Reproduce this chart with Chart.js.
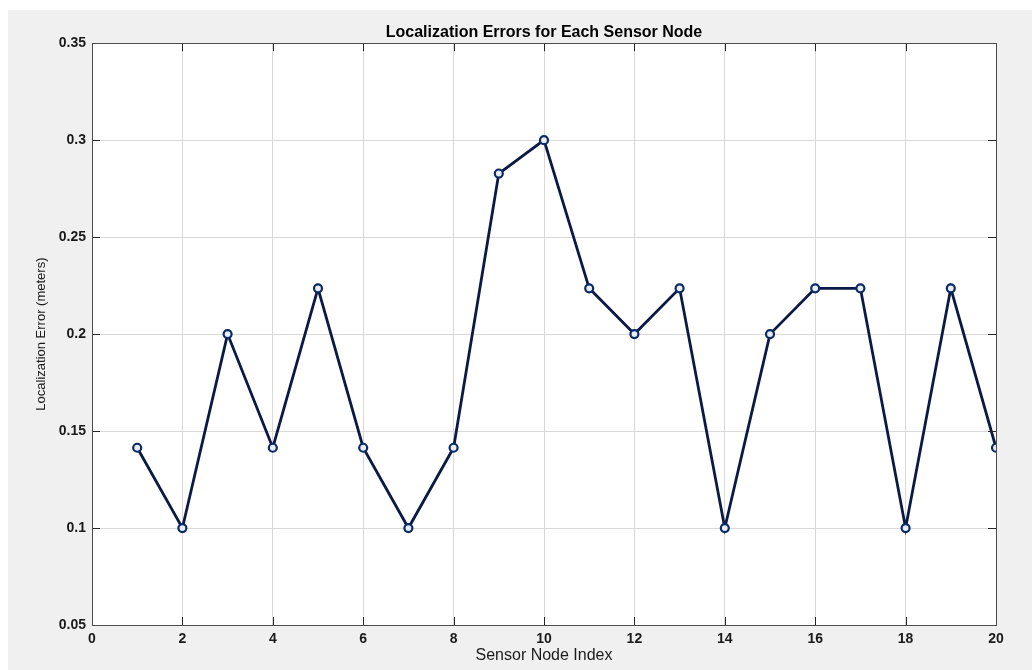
<!DOCTYPE html>
<html>
<head>
<meta charset="utf-8">
<script src="https://cdn.jsdelivr.net/npm/chart.js@4.4.1/dist/chart.umd.min.js"></script>
<style>
  html, body { margin: 0; padding: 0; background: #ffffff; }
  #wrap { width: 1032px; height: 670px; }
</style>
</head>
<body>
<div id="wrap"><canvas id="errorChart" width="1032" height="670"></canvas></div>
<script>
const nodeIndex = [1, 2, 3, 4, 5, 6, 7, 8, 9, 10, 11, 12, 13, 14, 15, 16, 17, 18, 19, 20];
const errorValues = [0.1414, 0.1, 0.2, 0.1414, 0.2236, 0.1414, 0.1, 0.1414, 0.2828, 0.3,
  0.2236, 0.2, 0.2236, 0.1, 0.2, 0.2236, 0.2236, 0.1, 0.2236, 0.1414];
const xTicks = [0, 2, 4, 6, 8, 10, 12, 14, 16, 18, 20];
const yTicks = [0.05, 0.1, 0.15, 0.2, 0.25, 0.3, 0.35];

const FONT = 'Liberation Sans, Arial, Helvetica, sans-serif';

// gray figure background, MATLAB style
const figureBackground = {
  id: 'figureBackground',
  beforeDraw(chart) {
    const c = chart.ctx;
    const a = chart.chartArea;
    c.save();
    c.fillStyle = '#f0f0f0';
    c.fillRect(8, 10, chart.width - 8, chart.height - 10);
    c.fillStyle = '#ffffff';
    c.fillRect(a.left, a.top, a.right - a.left, a.bottom - a.top);
    c.restore();
  }
};

// box around the axes plus inward tick marks
const axesBox = {
  id: 'axesBox',
  afterDatasetsDraw(chart) {
    const c = chart.ctx;
    const a = chart.chartArea;
    const xs = chart.scales.x;
    const ys = chart.scales.y;
    c.save();
    c.strokeStyle = '#262626';
    c.lineWidth = 1;
    c.beginPath();
    xTicks.forEach((v) => {
      const px = Math.round(xs.getPixelForValue(v)) + 0.5;
      c.moveTo(px, a.bottom); c.lineTo(px, a.bottom - 8);
      c.moveTo(px, a.top); c.lineTo(px, a.top + 8);
    });
    yTicks.forEach((v) => {
      const py = Math.round(ys.getPixelForValue(v)) + 0.5;
      c.moveTo(a.left, py); c.lineTo(a.left + 8, py);
      c.moveTo(a.right, py); c.lineTo(a.right - 8, py);
    });
    c.stroke();
    c.strokeStyle = '#4d4d4d';
    c.strokeRect(Math.round(a.left) + 0.5, Math.round(a.top) + 0.5,
      Math.round(a.right - a.left), Math.round(a.bottom - a.top));
    c.restore();
  }
};

new Chart(document.getElementById('errorChart'), {
  type: 'line',
  data: {
    datasets: [{
      label: 'Localization Error',
      data: nodeIndex.map((n, i) => ({ x: n, y: errorValues[i] })),
      borderColor: '#0a1a45',
      borderWidth: 2.8,
      pointRadius: 4,
      pointBorderWidth: 2.2,
      pointBorderColor: '#0b2a66',
      pointBackgroundColor: '#e8eef8',
      tension: 0
    }]
  },
  options: {
    responsive: false,
    animation: false,
    layout: { padding: { left: 8, top: 10, right: 36, bottom: 0 } },
    plugins: {
      legend: { display: false },
      tooltip: { enabled: false },
      title: {
        display: true,
        fullSize: false,
        text: 'Localization Errors for Each Sensor Node',
        color: '#000000',
        font: { family: FONT, size: 16, weight: 'bold' },
        padding: { top: 13, bottom: 1 }
      }
    },
    scales: {
      x: {
        type: 'linear',
        min: 0,
        max: 20,
        afterBuildTicks: (scale) => { scale.ticks = xTicks.map((v) => ({ value: v })); },
        afterFit: (scale) => { scale.height = 45; },
        grid: { color: '#d9d9d9', drawTicks: false },
        border: { display: false },
        ticks: {
          color: '#1a1a1a',
          padding: 6,
          font: { family: FONT, size: 14, weight: 'bold' }
        },
        title: {
          display: true,
          text: 'Sensor Node Index',
          color: '#1a1a1a',
          font: { family: FONT, size: 16 },
          padding: { top: 5, bottom: 5 }
        }
      },
      y: {
        min: 0.05,
        max: 0.35,
        afterBuildTicks: (scale) => { scale.ticks = yTicks.map((v) => ({ value: v })); },
        afterFit: (scale) => { scale.width = 84; },
        grid: { color: '#d9d9d9', drawTicks: false },
        border: { display: false },
        ticks: {
          color: '#1a1a1a',
          padding: 6,
          font: { family: FONT, size: 14, weight: 'bold' },
          callback: (v) => String(parseFloat(Number(v).toFixed(2)))
        },
        title: {
          display: true,
          text: 'Localization Error (meters)',
          color: '#1a1a1a',
          font: { family: FONT, size: 13 },
          padding: { top: 26, bottom: 26 }
        }
      }
    }
  },
  plugins: [figureBackground, axesBox]
});
</script>
</body>
</html>
